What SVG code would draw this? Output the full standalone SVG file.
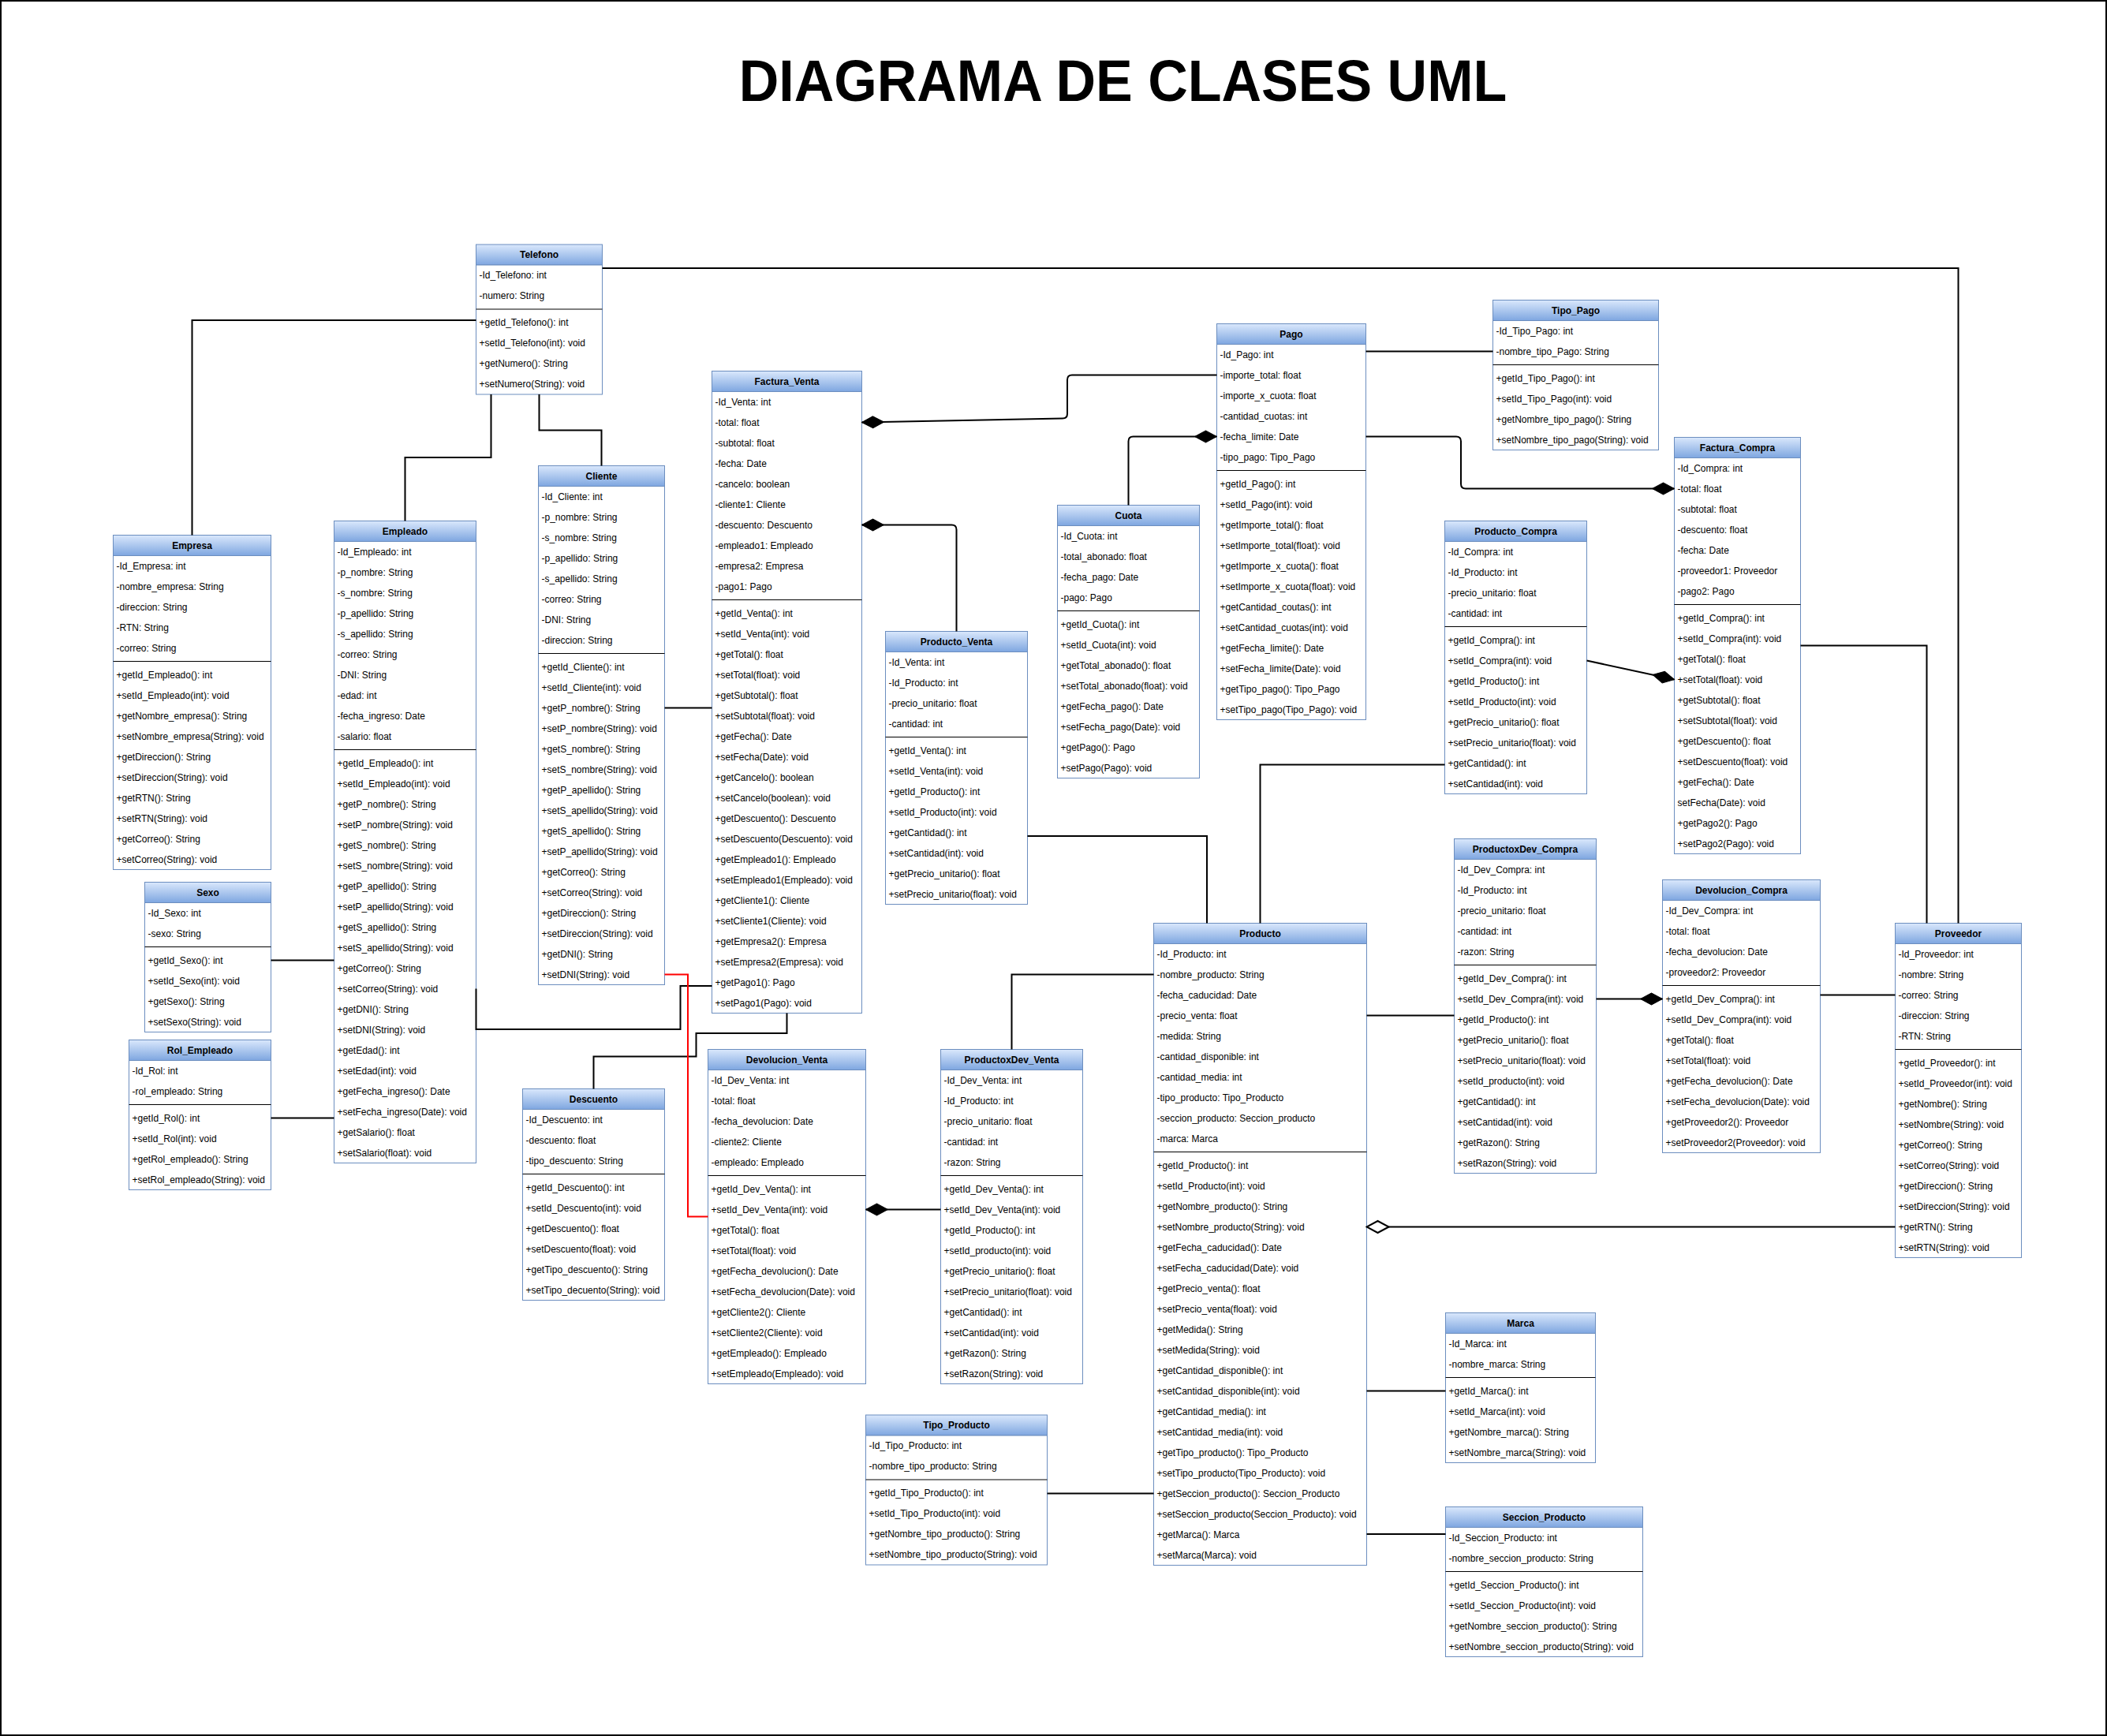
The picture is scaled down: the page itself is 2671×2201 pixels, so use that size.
<svg xmlns="http://www.w3.org/2000/svg" width="2671" height="2201" viewBox="0 0 2671 2201">
<defs>
<linearGradient id="hg" x1="0" y1="0" x2="0" y2="1"><stop offset="0" stop-color="#dae8fc"/><stop offset="1" stop-color="#7ea6e0"/></linearGradient>
<marker id="dF" viewBox="-1 -9 30 18" markerWidth="30" markerHeight="18" refX="28" refY="0" orient="auto" markerUnits="userSpaceOnUse"><path d="M0,0 L14,-7.5 L28,0 L14,7.5 Z" fill="#000" stroke="#000" stroke-width="1"/></marker>
<marker id="dH" viewBox="-2 -10 32 20" markerWidth="32" markerHeight="20" refX="28" refY="0" orient="auto" markerUnits="userSpaceOnUse"><path d="M0,0 L14,-7.5 L28,0 L14,7.5 Z" fill="#fff" stroke="#000" stroke-width="2"/></marker>
</defs>
<style>
.hd{fill:url(#hg);stroke:#6c8ebf;stroke-width:1}
.bd{fill:#fff;stroke:#6c8ebf;stroke-width:1}
.sp{stroke:#000;stroke-width:1}
.t{font-family:"Liberation Sans",Arial,Helvetica,sans-serif;font-size:12px;fill:#000}
.h{font-weight:bold;text-anchor:middle}
.c{fill:none;stroke:#000;stroke-width:2}
.r{fill:none;stroke:#ff0000;stroke-width:2}
.ti{font-family:"Liberation Sans",Arial,Helvetica,sans-serif;font-size:70px;font-weight:bold;text-anchor:middle;fill:#000}
</style>
<rect x="0" y="0" width="2671" height="2201" fill="#fff"/>
<rect x="1" y="1" width="2669" height="2199" fill="none" stroke="#000" stroke-width="2"/>
<text class="ti" transform="translate(1423.5,127.5) scale(1,1.07)">DIAGRAMA DE CLASES UML</text>

<g id="telefono" transform="translate(603.5,310)">
<rect class="hd" width="160" height="26"/><rect class="bd" y="26" width="160" height="164"/><line class="sp" x1="0" y1="82" x2="160" y2="82"/>
<text class="t h" x="80" y="17">Telefono</text>
<text class="t"><tspan x="4" y="43">-Id_Telefono: int</tspan><tspan x="4" dy="26">-numero: String</tspan></text>
<text class="t"><tspan x="4" y="103">+getId_Telefono(): int</tspan><tspan x="4" dy="26">+setId_Telefono(int): void</tspan><tspan x="4" dy="26">+getNumero(): String</tspan><tspan x="4" dy="26">+setNumero(String): void</tspan></text>
</g>

<g id="empresa" transform="translate(143.5,678.5)">
<rect class="hd" width="200" height="26"/><rect class="bd" y="26" width="200" height="398"/><line class="sp" x1="0" y1="160" x2="200" y2="160"/>
<text class="t h" x="100" y="17">Empresa</text>
<text class="t"><tspan x="4" y="43">-Id_Empresa: int</tspan><tspan x="4" dy="26">-nombre_empresa: String</tspan><tspan x="4" dy="26">-direccion: String</tspan><tspan x="4" dy="26">-RTN: String</tspan><tspan x="4" dy="26">-correo: String</tspan></text>
<text class="t"><tspan x="4" y="181">+getId_Empleado(): int</tspan><tspan x="4" dy="26">+setId_Empleado(int): void</tspan><tspan x="4" dy="26">+getNombre_empresa(): String</tspan><tspan x="4" dy="26">+setNombre_empresa(String): void</tspan><tspan x="4" dy="26">+getDireccion(): String</tspan><tspan x="4" dy="26">+setDireccion(String): void</tspan><tspan x="4" dy="26">+getRTN(): String</tspan><tspan x="4" dy="26">+setRTN(String): void</tspan><tspan x="4" dy="26">+getCorreo(): String</tspan><tspan x="4" dy="26">+setCorreo(String): void</tspan></text>
</g>

<g id="empleado" transform="translate(423.5,660.5)">
<rect class="hd" width="180" height="26"/><rect class="bd" y="26" width="180" height="788"/><line class="sp" x1="0" y1="290" x2="180" y2="290"/>
<text class="t h" x="90" y="17">Empleado</text>
<text class="t"><tspan x="4" y="43">-Id_Empleado: int</tspan><tspan x="4" dy="26">-p_nombre: String</tspan><tspan x="4" dy="26">-s_nombre: String</tspan><tspan x="4" dy="26">-p_apellido: String</tspan><tspan x="4" dy="26">-s_apellido: String</tspan><tspan x="4" dy="26">-correo: String</tspan><tspan x="4" dy="26">-DNI: String</tspan><tspan x="4" dy="26">-edad: int</tspan><tspan x="4" dy="26">-fecha_ingreso: Date</tspan><tspan x="4" dy="26">-salario: float</tspan></text>
<text class="t"><tspan x="4" y="311">+getId_Empleado(): int</tspan><tspan x="4" dy="26">+setId_Empleado(int): void</tspan><tspan x="4" dy="26">+getP_nombre(): String</tspan><tspan x="4" dy="26">+setP_nombre(String): void</tspan><tspan x="4" dy="26">+getS_nombre(): String</tspan><tspan x="4" dy="26">+setS_nombre(String): void</tspan><tspan x="4" dy="26">+getP_apellido(): String</tspan><tspan x="4" dy="26">+setP_apellido(String): void</tspan><tspan x="4" dy="26">+getS_apellido(): String</tspan><tspan x="4" dy="26">+setS_apellido(String): void</tspan><tspan x="4" dy="26">+getCorreo(): String</tspan><tspan x="4" dy="26">+setCorreo(String): void</tspan><tspan x="4" dy="26">+getDNI(): String</tspan><tspan x="4" dy="26">+setDNI(String): void</tspan><tspan x="4" dy="26">+getEdad(): int</tspan><tspan x="4" dy="26">+setEdad(int): void</tspan><tspan x="4" dy="26">+getFecha_ingreso(): Date</tspan><tspan x="4" dy="26">+setFecha_ingreso(Date): void</tspan><tspan x="4" dy="26">+getSalario(): float</tspan><tspan x="4" dy="26">+setSalario(float): void</tspan></text>
</g>

<g id="cliente" transform="translate(682.5,590.5)">
<rect class="hd" width="160" height="26"/><rect class="bd" y="26" width="160" height="632"/><line class="sp" x1="0" y1="238" x2="160" y2="238"/>
<text class="t h" x="80" y="17">Cliente</text>
<text class="t"><tspan x="4" y="43">-Id_Cliente: int</tspan><tspan x="4" dy="26">-p_nombre: String</tspan><tspan x="4" dy="26">-s_nombre: String</tspan><tspan x="4" dy="26">-p_apellido: String</tspan><tspan x="4" dy="26">-s_apellido: String</tspan><tspan x="4" dy="26">-correo: String</tspan><tspan x="4" dy="26">-DNI: String</tspan><tspan x="4" dy="26">-direccion: String</tspan></text>
<text class="t"><tspan x="4" y="259">+getId_Cliente(): int</tspan><tspan x="4" dy="26">+setId_Cliente(int): void</tspan><tspan x="4" dy="26">+getP_nombre(): String</tspan><tspan x="4" dy="26">+setP_nombre(String): void</tspan><tspan x="4" dy="26">+getS_nombre(): String</tspan><tspan x="4" dy="26">+setS_nombre(String): void</tspan><tspan x="4" dy="26">+getP_apellido(): String</tspan><tspan x="4" dy="26">+setS_apellido(String): void</tspan><tspan x="4" dy="26">+getS_apellido(): String</tspan><tspan x="4" dy="26">+setP_apellido(String): void</tspan><tspan x="4" dy="26">+getCorreo(): String</tspan><tspan x="4" dy="26">+setCorreo(String): void</tspan><tspan x="4" dy="26">+getDireccion(): String</tspan><tspan x="4" dy="26">+setDireccion(String): void</tspan><tspan x="4" dy="26">+getDNI(): String</tspan><tspan x="4" dy="26">+setDNI(String): void</tspan></text>
</g>

<g id="factura_venta" transform="translate(902.5,470.5)">
<rect class="hd" width="190" height="26"/><rect class="bd" y="26" width="190" height="788"/><line class="sp" x1="0" y1="290" x2="190" y2="290"/>
<text class="t h" x="95" y="17">Factura_Venta</text>
<text class="t"><tspan x="4" y="43">-Id_Venta: int</tspan><tspan x="4" dy="26">-total: float</tspan><tspan x="4" dy="26">-subtotal: float</tspan><tspan x="4" dy="26">-fecha: Date</tspan><tspan x="4" dy="26">-cancelo: boolean</tspan><tspan x="4" dy="26">-cliente1: Cliente</tspan><tspan x="4" dy="26">-descuento: Descuento</tspan><tspan x="4" dy="26">-empleado1: Empleado</tspan><tspan x="4" dy="26">-empresa2: Empresa</tspan><tspan x="4" dy="26">-pago1: Pago</tspan></text>
<text class="t"><tspan x="4" y="311">+getId_Venta(): int</tspan><tspan x="4" dy="26">+setId_Venta(int): void</tspan><tspan x="4" dy="26">+getTotal(): float</tspan><tspan x="4" dy="26">+setTotal(float): void</tspan><tspan x="4" dy="26">+getSubtotal(): float</tspan><tspan x="4" dy="26">+setSubtotal(float): void</tspan><tspan x="4" dy="26">+getFecha(): Date</tspan><tspan x="4" dy="26">+setFecha(Date): void</tspan><tspan x="4" dy="26">+getCancelo(): boolean</tspan><tspan x="4" dy="26">+setCancelo(boolean): void</tspan><tspan x="4" dy="26">+getDescuento(): Descuento</tspan><tspan x="4" dy="26">+setDescuento(Descuento): void</tspan><tspan x="4" dy="26">+getEmpleado1(): Empleado</tspan><tspan x="4" dy="26">+setEmpleado1(Empleado): void</tspan><tspan x="4" dy="26">+getCliente1(): Cliente</tspan><tspan x="4" dy="26">+setCliente1(Cliente): void</tspan><tspan x="4" dy="26">+getEmpresa2(): Empresa</tspan><tspan x="4" dy="26">+setEmpresa2(Empresa): void</tspan><tspan x="4" dy="26">+getPago1(): Pago</tspan><tspan x="4" dy="26">+setPago1(Pago): void</tspan></text>
</g>

<g id="producto_venta" transform="translate(1122.5,800.5)">
<rect class="hd" width="180" height="26"/><rect class="bd" y="26" width="180" height="320"/><line class="sp" x1="0" y1="134" x2="180" y2="134"/>
<text class="t h" x="90" y="17">Producto_Venta</text>
<text class="t"><tspan x="4" y="43">-Id_Venta: int</tspan><tspan x="4" dy="26">-Id_Producto: int</tspan><tspan x="4" dy="26">-precio_unitario: float</tspan><tspan x="4" dy="26">-cantidad: int</tspan></text>
<text class="t"><tspan x="4" y="155">+getId_Venta(): int</tspan><tspan x="4" dy="26">+setId_Venta(int): void</tspan><tspan x="4" dy="26">+getId_Producto(): int</tspan><tspan x="4" dy="26">+setId_Producto(int): void</tspan><tspan x="4" dy="26">+getCantidad(): int</tspan><tspan x="4" dy="26">+setCantidad(int): void</tspan><tspan x="4" dy="26">+getPrecio_unitario(): float</tspan><tspan x="4" dy="26">+setPrecio_unitario(float): void</tspan></text>
</g>

<g id="cuota" transform="translate(1340.5,640.5)">
<rect class="hd" width="180" height="26"/><rect class="bd" y="26" width="180" height="320"/><line class="sp" x1="0" y1="134" x2="180" y2="134"/>
<text class="t h" x="90" y="17">Cuota</text>
<text class="t"><tspan x="4" y="43">-Id_Cuota: int</tspan><tspan x="4" dy="26">-total_abonado: float</tspan><tspan x="4" dy="26">-fecha_pago: Date</tspan><tspan x="4" dy="26">-pago: Pago</tspan></text>
<text class="t"><tspan x="4" y="155">+getId_Cuota(): int</tspan><tspan x="4" dy="26">+setId_Cuota(int): void</tspan><tspan x="4" dy="26">+getTotal_abonado(): float</tspan><tspan x="4" dy="26">+setTotal_abonado(float): void</tspan><tspan x="4" dy="26">+getFecha_pago(): Date</tspan><tspan x="4" dy="26">+setFecha_pago(Date): void</tspan><tspan x="4" dy="26">+getPago(): Pago</tspan><tspan x="4" dy="26">+setPago(Pago): void</tspan></text>
</g>

<g id="pago" transform="translate(1542.5,410.5)">
<rect class="hd" width="189" height="26"/><rect class="bd" y="26" width="189" height="476"/><line class="sp" x1="0" y1="186" x2="189" y2="186"/>
<text class="t h" x="94.5" y="17">Pago</text>
<text class="t"><tspan x="4" y="43">-Id_Pago: int</tspan><tspan x="4" dy="26">-importe_total: float</tspan><tspan x="4" dy="26">-importe_x_cuota: float</tspan><tspan x="4" dy="26">-cantidad_cuotas: int</tspan><tspan x="4" dy="26">-fecha_limite: Date</tspan><tspan x="4" dy="26">-tipo_pago: Tipo_Pago</tspan></text>
<text class="t"><tspan x="4" y="207">+getId_Pago(): int</tspan><tspan x="4" dy="26">+setId_Pago(int): void</tspan><tspan x="4" dy="26">+getImporte_total(): float</tspan><tspan x="4" dy="26">+setImporte_total(float): void</tspan><tspan x="4" dy="26">+getImporte_x_cuota(): float</tspan><tspan x="4" dy="26">+setImporte_x_cuota(float): void</tspan><tspan x="4" dy="26">+getCantidad_coutas(): int</tspan><tspan x="4" dy="26">+setCantidad_cuotas(int): void</tspan><tspan x="4" dy="26">+getFecha_limite(): Date</tspan><tspan x="4" dy="26">+setFecha_limite(Date): void</tspan><tspan x="4" dy="26">+getTipo_pago(): Tipo_Pago</tspan><tspan x="4" dy="26">+setTipo_pago(Tipo_Pago): void</tspan></text>
</g>

<g id="tipo_pago" transform="translate(1892.5,380.5)">
<rect class="hd" width="210" height="26"/><rect class="bd" y="26" width="210" height="164"/><line class="sp" x1="0" y1="82" x2="210" y2="82"/>
<text class="t h" x="105" y="17">Tipo_Pago</text>
<text class="t"><tspan x="4" y="43">-Id_Tipo_Pago: int</tspan><tspan x="4" dy="26">-nombre_tipo_Pago: String</tspan></text>
<text class="t"><tspan x="4" y="103">+getId_Tipo_Pago(): int</tspan><tspan x="4" dy="26">+setId_Tipo_Pago(int): void</tspan><tspan x="4" dy="26">+getNombre_tipo_pago(): String</tspan><tspan x="4" dy="26">+setNombre_tipo_pago(String): void</tspan></text>
</g>

<g id="factura_compra" transform="translate(2122.5,554.5)">
<rect class="hd" width="160" height="26"/><rect class="bd" y="26" width="160" height="502"/><line class="sp" x1="0" y1="212" x2="160" y2="212"/>
<text class="t h" x="80" y="17">Factura_Compra</text>
<text class="t"><tspan x="4" y="43">-Id_Compra: int</tspan><tspan x="4" dy="26">-total: float</tspan><tspan x="4" dy="26">-subtotal: float</tspan><tspan x="4" dy="26">-descuento: float</tspan><tspan x="4" dy="26">-fecha: Date</tspan><tspan x="4" dy="26">-proveedor1: Proveedor</tspan><tspan x="4" dy="26">-pago2: Pago</tspan></text>
<text class="t"><tspan x="4" y="233">+getId_Compra(): int</tspan><tspan x="4" dy="26">+setId_Compra(int): void</tspan><tspan x="4" dy="26">+getTotal(): float</tspan><tspan x="4" dy="26">+setTotal(float): void</tspan><tspan x="4" dy="26">+getSubtotal(): float</tspan><tspan x="4" dy="26">+setSubtotal(float): void</tspan><tspan x="4" dy="26">+getDescuento(): float</tspan><tspan x="4" dy="26">+setDescuento(float): void</tspan><tspan x="4" dy="26">+getFecha(): Date</tspan><tspan x="4" dy="26">setFecha(Date): void</tspan><tspan x="4" dy="26">+getPago2(): Pago</tspan><tspan x="4" dy="26">+setPago2(Pago): void</tspan></text>
</g>

<g id="producto_compra" transform="translate(1831.5,660.5)">
<rect class="hd" width="180" height="26"/><rect class="bd" y="26" width="180" height="320"/><line class="sp" x1="0" y1="134" x2="180" y2="134"/>
<text class="t h" x="90" y="17">Producto_Compra</text>
<text class="t"><tspan x="4" y="43">-Id_Compra: int</tspan><tspan x="4" dy="26">-Id_Producto: int</tspan><tspan x="4" dy="26">-precio_unitario: float</tspan><tspan x="4" dy="26">-cantidad: int</tspan></text>
<text class="t"><tspan x="4" y="155">+getId_Compra(): int</tspan><tspan x="4" dy="26">+setId_Compra(int): void</tspan><tspan x="4" dy="26">+getId_Producto(): int</tspan><tspan x="4" dy="26">+setId_Producto(int): void</tspan><tspan x="4" dy="26">+getPrecio_unitario(): float</tspan><tspan x="4" dy="26">+setPrecio_unitario(float): void</tspan><tspan x="4" dy="26">+getCantidad(): int</tspan><tspan x="4" dy="26">+setCantidad(int): void</tspan></text>
</g>

<g id="productoxdev_compra" transform="translate(1843.5,1063.5)">
<rect class="hd" width="180" height="26"/><rect class="bd" y="26" width="180" height="398"/><line class="sp" x1="0" y1="160" x2="180" y2="160"/>
<text class="t h" x="90" y="17">ProductoxDev_Compra</text>
<text class="t"><tspan x="4" y="43">-Id_Dev_Compra: int</tspan><tspan x="4" dy="26">-Id_Producto: int</tspan><tspan x="4" dy="26">-precio_unitario: float</tspan><tspan x="4" dy="26">-cantidad: int</tspan><tspan x="4" dy="26">-razon: String</tspan></text>
<text class="t"><tspan x="4" y="181">+getId_Dev_Compra(): int</tspan><tspan x="4" dy="26">+setId_Dev_Compra(int): void</tspan><tspan x="4" dy="26">+getId_Producto(): int</tspan><tspan x="4" dy="26">+getPrecio_unitario(): float</tspan><tspan x="4" dy="26">+setPrecio_unitario(float): void</tspan><tspan x="4" dy="26">+setId_producto(int): void</tspan><tspan x="4" dy="26">+getCantidad(): int</tspan><tspan x="4" dy="26">+setCantidad(int): void</tspan><tspan x="4" dy="26">+getRazon(): String</tspan><tspan x="4" dy="26">+setRazon(String): void</tspan></text>
</g>

<g id="devolucion_compra" transform="translate(2107.5,1115.5)">
<rect class="hd" width="200" height="26"/><rect class="bd" y="26" width="200" height="320"/><line class="sp" x1="0" y1="134" x2="200" y2="134"/>
<text class="t h" x="100" y="17">Devolucion_Compra</text>
<text class="t"><tspan x="4" y="43">-Id_Dev_Compra: int</tspan><tspan x="4" dy="26">-total: float</tspan><tspan x="4" dy="26">-fecha_devolucion: Date</tspan><tspan x="4" dy="26">-proveedor2: Proveedor</tspan></text>
<text class="t"><tspan x="4" y="155">+getId_Dev_Compra(): int</tspan><tspan x="4" dy="26">+setId_Dev_Compra(int): void</tspan><tspan x="4" dy="26">+getTotal(): float</tspan><tspan x="4" dy="26">+setTotal(float): void</tspan><tspan x="4" dy="26">+getFecha_devolucion(): Date</tspan><tspan x="4" dy="26">+setFecha_devolucion(Date): void</tspan><tspan x="4" dy="26">+getProveedor2(): Proveedor</tspan><tspan x="4" dy="26">+setProveedor2(Proveedor): void</tspan></text>
</g>

<g id="proveedor" transform="translate(2402.5,1170.5)">
<rect class="hd" width="160" height="26"/><rect class="bd" y="26" width="160" height="398"/><line class="sp" x1="0" y1="160" x2="160" y2="160"/>
<text class="t h" x="80" y="17">Proveedor</text>
<text class="t"><tspan x="4" y="43">-Id_Proveedor: int</tspan><tspan x="4" dy="26">-nombre: String</tspan><tspan x="4" dy="26">-correo: String</tspan><tspan x="4" dy="26">-direccion: String</tspan><tspan x="4" dy="26">-RTN: String</tspan></text>
<text class="t"><tspan x="4" y="181">+getId_Proveedor(): int</tspan><tspan x="4" dy="26">+setId_Proveedor(int): void</tspan><tspan x="4" dy="26">+getNombre(): String</tspan><tspan x="4" dy="26">+setNombre(String): void</tspan><tspan x="4" dy="26">+getCorreo(): String</tspan><tspan x="4" dy="26">+setCorreo(String): void</tspan><tspan x="4" dy="26">+getDireccion(): String</tspan><tspan x="4" dy="26">+setDireccion(String): void</tspan><tspan x="4" dy="26">+getRTN(): String</tspan><tspan x="4" dy="26">+setRTN(String): void</tspan></text>
</g>

<g id="producto" transform="translate(1462.5,1170.5)">
<rect class="hd" width="270" height="26"/><rect class="bd" y="26" width="270" height="788"/><line class="sp" x1="0" y1="290" x2="270" y2="290"/>
<text class="t h" x="135" y="17">Producto</text>
<text class="t"><tspan x="4" y="43">-Id_Producto: int</tspan><tspan x="4" dy="26">-nombre_producto: String</tspan><tspan x="4" dy="26">-fecha_caducidad: Date</tspan><tspan x="4" dy="26">-precio_venta: float</tspan><tspan x="4" dy="26">-medida: String</tspan><tspan x="4" dy="26">-cantidad_disponible: int</tspan><tspan x="4" dy="26">-cantidad_media: int</tspan><tspan x="4" dy="26">-tipo_producto: Tipo_Producto</tspan><tspan x="4" dy="26">-seccion_producto: Seccion_producto</tspan><tspan x="4" dy="26">-marca: Marca</tspan></text>
<text class="t"><tspan x="4" y="311">+getId_Producto(): int</tspan><tspan x="4" dy="26">+setId_Producto(int): void</tspan><tspan x="4" dy="26">+getNombre_producto(): String</tspan><tspan x="4" dy="26">+setNombre_producto(String): void</tspan><tspan x="4" dy="26">+getFecha_caducidad(): Date</tspan><tspan x="4" dy="26">+setFecha_caducidad(Date): void</tspan><tspan x="4" dy="26">+getPrecio_venta(): float</tspan><tspan x="4" dy="26">+setPrecio_venta(float): void</tspan><tspan x="4" dy="26">+getMedida(): String</tspan><tspan x="4" dy="26">+setMedida(String): void</tspan><tspan x="4" dy="26">+getCantidad_disponible(): int</tspan><tspan x="4" dy="26">+setCantidad_disponible(int): void</tspan><tspan x="4" dy="26">+getCantidad_media(): int</tspan><tspan x="4" dy="26">+setCantidad_media(int): void</tspan><tspan x="4" dy="26">+getTipo_producto(): Tipo_Producto</tspan><tspan x="4" dy="26">+setTipo_producto(Tipo_Producto): void</tspan><tspan x="4" dy="26">+getSeccion_producto(): Seccion_Producto</tspan><tspan x="4" dy="26">+setSeccion_producto(Seccion_Producto): void</tspan><tspan x="4" dy="26">+getMarca(): Marca</tspan><tspan x="4" dy="26">+setMarca(Marca): void</tspan></text>
</g>

<g id="marca" transform="translate(1832.5,1664.5)">
<rect class="hd" width="190" height="26"/><rect class="bd" y="26" width="190" height="164"/><line class="sp" x1="0" y1="82" x2="190" y2="82"/>
<text class="t h" x="95" y="17">Marca</text>
<text class="t"><tspan x="4" y="43">-Id_Marca: int</tspan><tspan x="4" dy="26">-nombre_marca: String</tspan></text>
<text class="t"><tspan x="4" y="103">+getId_Marca(): int</tspan><tspan x="4" dy="26">+setId_Marca(int): void</tspan><tspan x="4" dy="26">+getNombre_marca(): String</tspan><tspan x="4" dy="26">+setNombre_marca(String): void</tspan></text>
</g>

<g id="seccion_producto" transform="translate(1832.5,1910.5)">
<rect class="hd" width="250" height="26"/><rect class="bd" y="26" width="250" height="164"/><line class="sp" x1="0" y1="82" x2="250" y2="82"/>
<text class="t h" x="125" y="17">Seccion_Producto</text>
<text class="t"><tspan x="4" y="43">-Id_Seccion_Producto: int</tspan><tspan x="4" dy="26">-nombre_seccion_producto: String</tspan></text>
<text class="t"><tspan x="4" y="103">+getId_Seccion_Producto(): int</tspan><tspan x="4" dy="26">+setId_Seccion_Producto(int): void</tspan><tspan x="4" dy="26">+getNombre_seccion_producto(): String</tspan><tspan x="4" dy="26">+setNombre_seccion_producto(String): void</tspan></text>
</g>

<g id="tipo_producto" transform="translate(1097.5,1794)">
<rect class="hd" width="230" height="26"/><rect class="bd" y="26" width="230" height="164"/><line class="sp" x1="0" y1="82" x2="230" y2="82"/>
<text class="t h" x="115" y="17">Tipo_Producto</text>
<text class="t"><tspan x="4" y="43">-Id_Tipo_Producto: int</tspan><tspan x="4" dy="26">-nombre_tipo_producto: String</tspan></text>
<text class="t"><tspan x="4" y="103">+getId_Tipo_Producto(): int</tspan><tspan x="4" dy="26">+setId_Tipo_Producto(int): void</tspan><tspan x="4" dy="26">+getNombre_tipo_producto(): String</tspan><tspan x="4" dy="26">+setNombre_tipo_producto(String): void</tspan></text>
</g>

<g id="productoxdev_venta" transform="translate(1192.5,1330.5)">
<rect class="hd" width="180" height="26"/><rect class="bd" y="26" width="180" height="398"/><line class="sp" x1="0" y1="160" x2="180" y2="160"/>
<text class="t h" x="90" y="17">ProductoxDev_Venta</text>
<text class="t"><tspan x="4" y="43">-Id_Dev_Venta: int</tspan><tspan x="4" dy="26">-Id_Producto: int</tspan><tspan x="4" dy="26">-precio_unitario: float</tspan><tspan x="4" dy="26">-cantidad: int</tspan><tspan x="4" dy="26">-razon: String</tspan></text>
<text class="t"><tspan x="4" y="181">+getId_Dev_Venta(): int</tspan><tspan x="4" dy="26">+setId_Dev_Venta(int): void</tspan><tspan x="4" dy="26">+getId_Producto(): int</tspan><tspan x="4" dy="26">+setId_producto(int): void</tspan><tspan x="4" dy="26">+getPrecio_unitario(): float</tspan><tspan x="4" dy="26">+setPrecio_unitario(float): void</tspan><tspan x="4" dy="26">+getCantidad(): int</tspan><tspan x="4" dy="26">+setCantidad(int): void</tspan><tspan x="4" dy="26">+getRazon(): String</tspan><tspan x="4" dy="26">+setRazon(String): void</tspan></text>
</g>

<g id="devolucion_venta" transform="translate(897.5,1330.5)">
<rect class="hd" width="200" height="26"/><rect class="bd" y="26" width="200" height="398"/><line class="sp" x1="0" y1="160" x2="200" y2="160"/>
<text class="t h" x="100" y="17">Devolucion_Venta</text>
<text class="t"><tspan x="4" y="43">-Id_Dev_Venta: int</tspan><tspan x="4" dy="26">-total: float</tspan><tspan x="4" dy="26">-fecha_devolucion: Date</tspan><tspan x="4" dy="26">-cliente2: Cliente</tspan><tspan x="4" dy="26">-empleado: Empleado</tspan></text>
<text class="t"><tspan x="4" y="181">+getId_Dev_Venta(): int</tspan><tspan x="4" dy="26">+setId_Dev_Venta(int): void</tspan><tspan x="4" dy="26">+getTotal(): float</tspan><tspan x="4" dy="26">+setTotal(float): void</tspan><tspan x="4" dy="26">+getFecha_devolucion(): Date</tspan><tspan x="4" dy="26">+setFecha_devolucion(Date): void</tspan><tspan x="4" dy="26">+getCliente2(): Cliente</tspan><tspan x="4" dy="26">+setCliente2(Cliente): void</tspan><tspan x="4" dy="26">+getEmpleado(): Empleado</tspan><tspan x="4" dy="26">+setEmpleado(Empleado): void</tspan></text>
</g>

<g id="descuento" transform="translate(662.5,1380.5)">
<rect class="hd" width="180" height="26"/><rect class="bd" y="26" width="180" height="242"/><line class="sp" x1="0" y1="108" x2="180" y2="108"/>
<text class="t h" x="90" y="17">Descuento</text>
<text class="t"><tspan x="4" y="43">-Id_Descuento: int</tspan><tspan x="4" dy="26">-descuento: float</tspan><tspan x="4" dy="26">-tipo_descuento: String</tspan></text>
<text class="t"><tspan x="4" y="129">+getId_Descuento(): int</tspan><tspan x="4" dy="26">+setId_Descuento(int): void</tspan><tspan x="4" dy="26">+getDescuento(): float</tspan><tspan x="4" dy="26">+setDescuento(float): void</tspan><tspan x="4" dy="26">+getTipo_descuento(): String</tspan><tspan x="4" dy="26">+setTipo_decuento(String): void</tspan></text>
</g>

<g id="sexo" transform="translate(183.5,1118.5)">
<rect class="hd" width="160" height="26"/><rect class="bd" y="26" width="160" height="164"/><line class="sp" x1="0" y1="82" x2="160" y2="82"/>
<text class="t h" x="80" y="17">Sexo</text>
<text class="t"><tspan x="4" y="43">-Id_Sexo: int</tspan><tspan x="4" dy="26">-sexo: String</tspan></text>
<text class="t"><tspan x="4" y="103">+getId_Sexo(): int</tspan><tspan x="4" dy="26">+setId_Sexo(int): void</tspan><tspan x="4" dy="26">+getSexo(): String</tspan><tspan x="4" dy="26">+setSexo(String): void</tspan></text>
</g>

<g id="rol_empleado" transform="translate(163.5,1318.5)">
<rect class="hd" width="180" height="26"/><rect class="bd" y="26" width="180" height="164"/><line class="sp" x1="0" y1="82" x2="180" y2="82"/>
<text class="t h" x="90" y="17">Rol_Empleado</text>
<text class="t"><tspan x="4" y="43">-Id_Rol: int</tspan><tspan x="4" dy="26">-rol_empleado: String</tspan></text>
<text class="t"><tspan x="4" y="103">+getId_Rol(): int</tspan><tspan x="4" dy="26">+setId_Rol(int): void</tspan><tspan x="4" dy="26">+getRol_empleado(): String</tspan><tspan x="4" dy="26">+setRol_empleado(String): void</tspan></text>
</g>

<g id="connectors">
<path class="c" d="M603.5,406 L243.5,406 L243.5,678.5"/>
<path class="c" d="M622.5,500 L622.5,580 L513.5,580 L513.5,660.5"/>
<path class="c" d="M683.5,500 L683.5,545.5 L762.5,545.5 L762.5,590.5"/>
<path class="c" d="M763.5,340 L2482.5,340 L2482.5,1170.5"/>
<path class="c" d="M842.5,897.5 L902.5,897.5"/>
<path class="c" d="M1542.5,475.5 L1359,475.5 Q1353,475.5 1353,481.5 L1353,524.5 Q1353,530.5 1347,530.5 L1092.5,535.5" marker-end="url(#dF)"/>
<path class="c" d="M1212.5,800.5 L1212.5,671.5 Q1212.5,665.5 1206.5,665.5 L1092.5,665.5" marker-end="url(#dF)"/>
<path class="c" d="M1430.5,640.5 L1430.5,559.5 Q1430.5,553.5 1436.5,553.5 L1542.5,553.5" marker-end="url(#dF)"/>
<path class="c" d="M1731.5,445.5 L1892.5,445.5"/>
<path class="c" d="M1731.5,553.5 L1846,553.5 Q1852,553.5 1852,559.5 L1852,613.5 Q1852,619.5 1858,619.5 L2122.5,619.5" marker-end="url(#dF)"/>
<path class="c" d="M2011.5,837.5 L2122.5,861.5" marker-end="url(#dF)"/>
<path class="c" d="M2282.5,818.5 L2442.5,818.5 L2442.5,1170.5"/>
<path class="c" d="M1302.5,1060 L1530,1060 L1530,1170.5"/>
<path class="c" d="M1831.5,969.5 L1597.5,969.5 L1597.5,1170.5"/>
<path class="c" d="M343.5,1217.5 L423.5,1217.5"/>
<path class="c" d="M343.5,1417.5 L423.5,1417.5"/>
<path class="c" d="M603.5,1253.5 L603.5,1305 L862.5,1305 L862.5,1250 L902.5,1250"/>
<path class="c" d="M997.5,1284.5 L997.5,1310 L882.5,1310 L882.5,1339.5 L752.5,1339.5 L752.5,1380.5"/>
<path class="c" d="M1192.5,1533.5 L1097.5,1533.5" marker-end="url(#dF)"/>
<path class="c" d="M1282.5,1330.5 L1282.5,1235.5 L1462.5,1235.5"/>
<path class="c" d="M1732.5,1287.5 L1843.5,1287.5"/>
<path class="c" d="M2023.5,1266.5 L2107.5,1266.5" marker-end="url(#dF)"/>
<path class="c" d="M2307.5,1261.5 L2402.5,1261.5"/>
<path class="c" d="M2402.5,1555.5 L1732.5,1555.5" marker-end="url(#dH)"/>
<path class="c" d="M1732.5,1763.5 L1832.5,1763.5"/>
<path class="c" d="M1732.5,1945 L1832.5,1945"/>
<path class="c" d="M1327.5,1893.5 L1462.5,1893.5"/>
<path class="r" d="M842.5,1235.5 L872,1235.5 L872,1542.5 L897.5,1542.5"/>
</g>
</svg>
